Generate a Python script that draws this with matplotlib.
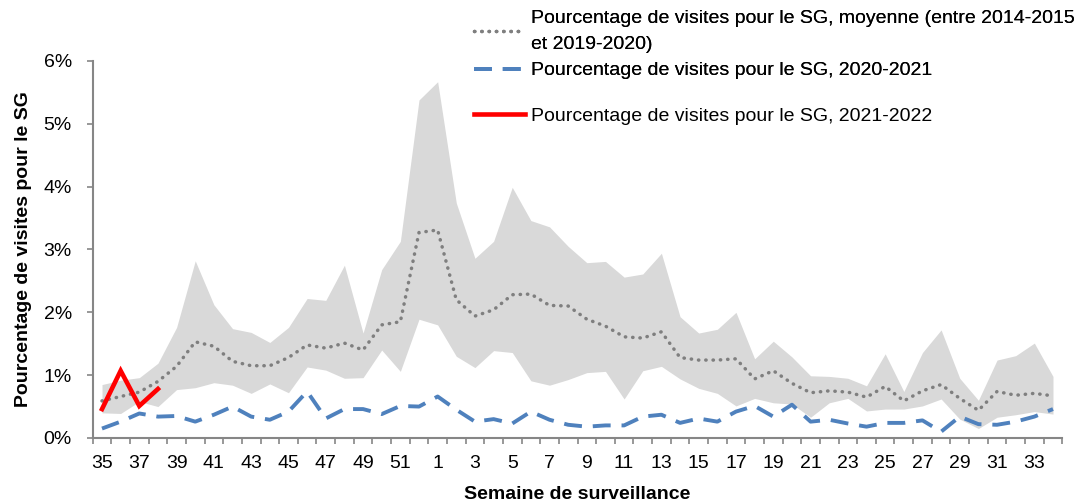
import numpy as np
import matplotlib
matplotlib.use('Agg')
import matplotlib.pyplot as plt
from matplotlib.ticker import PercentFormatter, MultipleLocator, FixedLocator

# Semaines de surveillance : 35 à 52, puis 1 à 34
semaines = list(range(35, 53)) + list(range(1, 35))

# Pourcentage de visites pour le SG (en %)
moyenne = [0.59, 0.66, 0.73, 0.90, 1.14, 1.53, 1.46, 1.22, 1.15, 1.15,
           1.28, 1.48, 1.43, 1.51, 1.40, 1.80, 1.85, 3.27, 3.31, 2.20,
           1.94, 2.04, 2.28, 2.29, 2.11, 2.10, 1.89, 1.78, 1.61, 1.59,
           1.69, 1.28, 1.24, 1.24, 1.26, 0.94, 1.07, 0.87, 0.72, 0.75,
           0.73, 0.65, 0.82, 0.59, 0.75, 0.85, 0.63, 0.44, 0.74, 0.68,
           0.71, 0.67]
maximum = [0.85, 0.92, 0.96, 1.19, 1.76, 2.82, 2.12, 1.74, 1.68, 1.52,
           1.76, 2.22, 2.19, 2.75, 1.67, 2.68, 3.13, 5.38, 5.67, 3.74,
           2.86, 3.13, 3.99, 3.46, 3.36, 3.05, 2.79, 2.81, 2.56, 2.61,
           2.94, 1.93, 1.67, 1.73, 2.00, 1.26, 1.54, 1.29, 0.99, 0.98,
           0.95, 0.83, 1.34, 0.74, 1.36, 1.72, 0.95, 0.60, 1.24, 1.31,
           1.51, 0.98]
minimum = [0.40, 0.39, 0.58, 0.50, 0.77, 0.80, 0.88, 0.84, 0.71, 0.86,
           0.72, 1.13, 1.08, 0.95, 0.96, 1.40, 1.06, 1.89, 1.80, 1.30,
           1.12, 1.39, 1.36, 0.91, 0.84, 0.93, 1.04, 1.06, 0.62, 1.07,
           1.14, 0.94, 0.79, 0.71, 0.51, 0.63, 0.56, 0.54, 0.33, 0.56,
           0.63, 0.43, 0.46, 0.46, 0.51, 0.62, 0.30, 0.15, 0.33, 0.37,
           0.42, 0.38]
saison_2020 = [0.15, 0.26, 0.39, 0.34, 0.35, 0.26, 0.37, 0.50, 0.34, 0.29,
               0.42, 0.74, 0.31, 0.46, 0.46, 0.38, 0.51, 0.50, 0.66, 0.45,
               0.26, 0.30, 0.23, 0.42, 0.29, 0.21, 0.18, 0.20, 0.20, 0.34,
               0.37, 0.24, 0.31, 0.26, 0.42, 0.51, 0.34, 0.53, 0.26, 0.29,
               0.23, 0.18, 0.24, 0.24, 0.28, 0.10, 0.34, 0.22, 0.21, 0.26,
               0.34, 0.46]
saison_2021 = [0.46, 1.07, 0.51, 0.78]

labels = ['Pourcentage de visites pour le SG, moyenne (entre 2014-2015\net 2019-2020)',
          'Pourcentage de visites pour le SG, 2020-2021',
          'Pourcentage de visites pour le SG, 2021-2022']

plt.rcParams['font.family'] = ['Liberation Sans', 'DejaVu Sans']

fig = plt.figure(figsize=(10.84, 5.04), dpi=100)
ax = fig.add_axes([0.0855, 0.131, 0.8945, 0.748])

x = np.arange(len(semaines))

# bande min-max
ax.fill_between(x, np.array(minimum) / 100, np.array(maximum) / 100,
                color='#d9d9d9', linewidth=0, zorder=1)

l1, = ax.plot(x, np.array(moyenne) / 100, color='#7f7f7f', lw=2.5,
              linestyle=(0, (0.1, 2.0)), dash_capstyle='round', zorder=3)
l2, = ax.plot(x, np.array(saison_2020) / 100, color='#4f81bd', lw=2.8,
              linestyle=(0, (4.6, 2.8)), zorder=3)
l3, = ax.plot(x[:len(saison_2021)], np.array(saison_2021) / 100,
              color='#ff0000', lw=3.3, solid_joinstyle='miter', zorder=4)

# axes
ax.set_xlim(-0.5, len(semaines) - 0.5)
ax.set_ylim(0, 0.06)
ax.yaxis.set_major_locator(MultipleLocator(0.01))
ax.yaxis.set_major_formatter(PercentFormatter(1.0, decimals=0))

ax.set_xticks(x[::2])
ax.set_xticklabels([str(s) for s in semaines[::2]])
ax.xaxis.set_minor_locator(FixedLocator(np.arange(-0.5, len(semaines), 1)))
ax.tick_params(axis='x', which='major', length=0, pad=12, labelsize=14)
ax.tick_params(axis='x', which='minor', length=4, width=1.2, color='#868686')
ax.tick_params(axis='y', length=4, width=1.2, color='#868686', pad=11, labelsize=14)

for s in ['top', 'right']:
    ax.spines[s].set_visible(False)
for s in ['left', 'bottom']:
    ax.spines[s].set_color('#868686')
    ax.spines[s].set_linewidth(1.5)

ax.set_ylabel('Pourcentage de visites pour le SG', fontsize=14, fontweight='bold', labelpad=8)
ax.set_xlabel('Semaine de surveillance', fontsize=14, fontweight='bold', labelpad=10)

# légende en deux morceaux (espacement inégal comme l'original)
leg1 = fig.legend([l1, l2], labels[:2], loc='upper left',
                  bbox_to_anchor=(0.434, 0.988), frameon=False, fontsize=14,
                  handlelength=2.6, handletextpad=0.3, labelspacing=0.45,
                  borderaxespad=0, borderpad=0.2)
for t in leg1.get_texts():
    t.set_linespacing(1.7)
leg2 = fig.legend([l3], labels[2:], loc='upper left',
                  bbox_to_anchor=(0.434, 0.795), frameon=False, fontsize=14,
                  handlelength=2.6, handletextpad=0.3,
                  borderaxespad=0, borderpad=0.2)
fig.add_artist(leg1)

plt.savefig('out.png', dpi=100)
plt.close()
